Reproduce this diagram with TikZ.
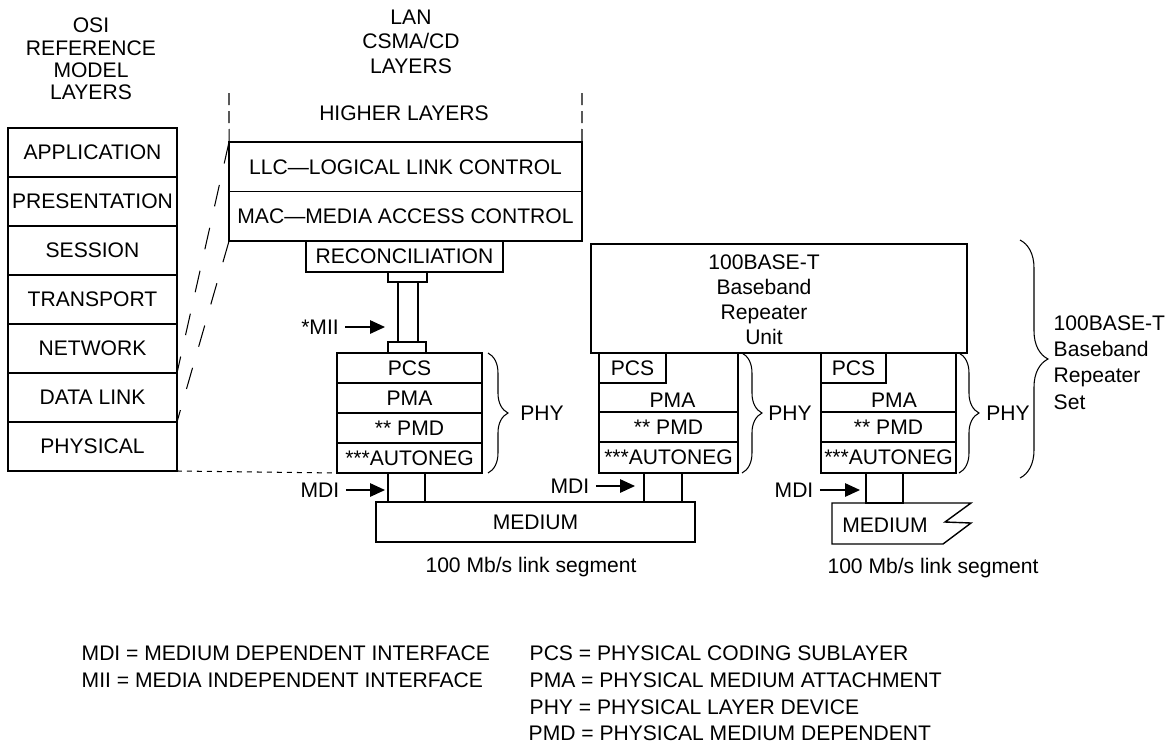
\documentclass[tikz,border=0pt]{standalone}
\usepackage{fontspec}
\setmainfont{Liberation Sans}
\usetikzlibrary{arrows.meta, decorations.pathreplacing}

\begin{document}
\begin{tikzpicture}[
    >={Triangle[length=0.3cm, width=0.27cm]},
    x=0.02cm, y=-0.02cm,
    line width=0.8pt,
    font=\fontsize{12}{14}\selectfont,
    box/.style={draw, rectangle, inner sep=0pt, outer sep=0pt, align=center},
    title/.style={align=center, inner sep=0pt},
    legend/.style={anchor=west, inner sep=0pt},
    brc/.style={decorate, decoration={brace, amplitude=#1}, line width=0.6pt},
    brc/.default=0.4cm,
    osilink/.style={line width=0.6pt, dash pattern=on 0.44cm off 0.44cm},
    hllink/.style={line width=0.6pt, dash pattern=on 0.24cm off 0.12cm},
    phylink/.style={line width=0.6pt, dash pattern=on 0.1cm off 0.1cm}
]
  \useasboundingbox (0,0) rectangle (1169,748);

  % OSI reference model
  \node[title, font=\fontsize{12}{12.7}\selectfont] (osititle) at (91,59) {OSI\\REFERENCE\\MODEL\\LAYERS};
  \node[box, minimum width=3.38cm, minimum height=0.98cm] (osi1) at (92.5,152.5) {APPLICATION};
  \node[box, minimum width=3.38cm, minimum height=0.98cm] (osi2) at (92.5,201.5) {PRESENTATION};
  \node[box, minimum width=3.38cm, minimum height=0.98cm] (osi3) at (92.5,250.5) {SESSION};
  \node[box, minimum width=3.38cm, minimum height=0.98cm] (osi4) at (92.5,299.5) {TRANSPORT};
  \node[box, minimum width=3.38cm, minimum height=0.98cm] (osi5) at (92.5,348.5) {NETWORK};
  \node[box, minimum width=3.38cm, minimum height=0.98cm] (osi6) at (92.5,397.5) {DATA LINK};
  \node[box, minimum width=3.38cm, minimum height=0.98cm] (osi7) at (92.5,446.5) {PHYSICAL};

  % LAN CSMA/CD layers
  \node[title, font=\fontsize{12}{13.9}\selectfont] (lantitle) at (411,41.5) {LAN\\CSMA/CD\\LAYERS};
  \node (higher) at (404,113) {HIGHER LAYERS};
  \node[box, minimum width=7.06cm, minimum height=0.99cm] (llc) at (405.5,166.75) {LLC—LOGICAL LINK CONTROL};
  \node[box, minimum width=7.06cm, minimum height=0.99cm] (mac) at (405.5,216.25) {MAC—MEDIA ACCESS CONTROL};
  \node[box, minimum width=3.94cm, minimum height=0.62cm] (recon) at (404.5,256.5) {RECONCILIATION};
  \coordinate (hlL) at (229,93);
  \coordinate (hlR) at (582,93);
  \draw[hllink] (hlL) -- (llc.north west);
  \draw[hllink] (hlR) -- (llc.north east);

  % MII
  \node[box, minimum width=0.78cm, minimum height=0.2cm] (miiT) at (407.5,277) {};
  \node[box, minimum width=0.4cm, minimum height=1.2cm] (miiBar) at (408,312) {};
  \node[box, minimum width=0.76cm, minimum height=0.22cm] (miiL) at (407,347.5) {};
  \node (miilab) at (320,327) {*MII};
  \coordinate (miitip) at (385,327);
  \draw[->] (miilab) -- (miitip);

  % PHY of the DTE
  \node[box, minimum width=2.9cm, minimum height=0.6cm] (pcsA) at (409.5,368) {PCS};
  \node[box, minimum width=2.9cm, minimum height=0.6cm] (pmaA) at (409.5,398) {PMA};
  \node[box, minimum width=2.9cm, minimum height=0.6cm] (pmdA) at (409.5,428) {** PMD};
  \node[box, minimum width=2.9cm, minimum height=0.6cm] (autoA) at (409.5,458) {***AUTONEG};
  \draw[brc] ([xshift=0.12cm]pcsA.north east) -- ([xshift=0.12cm]autoA.south east);
  \node (phylabA) at (542,413) {PHY};

  \node[box, minimum width=0.74cm, minimum height=0.58cm] (mdiA) at (406.5,487.5) {};
  \node (mdilabA) at (320,490) {MDI};
  \coordinate (mditipA) at (385,490);
  \draw[->] (mdilabA) -- (mditipA);
  \node[box, minimum width=6.38cm, minimum height=0.8cm] (medA) at (535.5,522) {MEDIUM};
  \node (linkA) at (531,567) {100 Mb/s link segment};

  % Repeater unit
  \node[box, minimum width=7.52cm, minimum height=2.18cm] (rptU) at (779,298.5) {};
  \node[title, font=\fontsize{12}{14.2}\selectfont] (rpttext) at (764,299.5) {100BASE-T\\Baseband\\Repeater\\Unit};

  % Repeater port B
  \node[box, minimum width=2.78cm, minimum height=1.18cm] (pmaB) at (668.5,382.5) {};
  \node[box, minimum width=1.34cm, minimum height=0.6cm] (pcsB) at (632.5,368) {PCS};
  \node (pmatextB) at (672.5,400) {PMA};
  \node[box, minimum width=2.78cm, minimum height=0.6cm] (pmdB) at (668.5,427) {** PMD};
  \node[box, minimum width=2.78cm, minimum height=0.62cm] (autoB) at (668.5,457.5) {***AUTONEG};
  \draw[brc] ([xshift=0.08cm]pmaB.north east) -- ([xshift=0.08cm]autoB.south east);
  \node (phylabB) at (790,413) {PHY};

  \node[box, minimum width=0.76cm, minimum height=0.58cm] (mdiB) at (663,487.5) {};
  \node (mdilabB) at (570,486) {MDI};
  \coordinate (mditipB) at (635,486);
  \draw[->] (mdilabB) -- (mditipB);

  % Repeater port C
  \node[box, minimum width=2.7cm, minimum height=1.18cm] (pmaC) at (888.5,382.5) {};
  \node[box, minimum width=1.3cm, minimum height=0.6cm] (pcsC) at (853.5,368) {PCS};
  \node (pmatextC) at (894,400) {PMA};
  \node[box, minimum width=2.7cm, minimum height=0.6cm] (pmdC) at (888.5,427) {** PMD};
  \node[box, minimum width=2.7cm, minimum height=0.62cm] (autoC) at (888.5,457.5) {***AUTONEG};
  \draw[brc] ([xshift=0.06cm]pmaC.north east) -- ([xshift=0.06cm]autoC.south east);
  \node (phylabC) at (1008,413) {PHY};

  \node[box, minimum width=0.74cm, minimum height=0.6cm] (mdiC) at (884.5,488) {};
  \node (mdilabC) at (794,490) {MDI};
  \coordinate (mditipC) at (860,490);
  \draw[->] (mdilabC) -- (mditipC);
  \draw (832,503) -- (971,503) -- (945,522) -- (971,523) -- (943,544) -- (832,544) -- cycle;
  \node (medtextC) at (885,525) {MEDIUM};
  \node (linkB) at (933,568) {100 Mb/s link segment};

  % Repeater set
  \coordinate (setTop) at (1020,240);
  \coordinate (setBot) at (1020,478);
  \draw[brc=0.56cm] (setTop) -- (setBot);
  \node[title, align=left, anchor=west, font=\fontsize{12}{14.9}\selectfont] (setlab) at (1053,362.5) {100BASE-T\\Baseband\\Repeater\\Set};

  % OSI to LAN mapping
  \draw[osilink] (llc.north west) -- (osi6.north east);
  \draw[osilink] (mac.south west) -- (osi6.south east);
  \draw[phylink] (osi7.south east) -- (autoA.south west);

  % Legend
  \node[legend] (legMDI) at (81,653) {MDI = MEDIUM DEPENDENT INTERFACE};
  \node[legend] (legMII) at (81,680) {MII = MEDIA INDEPENDENT INTERFACE};
  \node[legend] (legPCS) at (529,653) {PCS = PHYSICAL CODING SUBLAYER};
  \node[legend] (legPMA) at (529,680) {PMA = PHYSICAL MEDIUM ATTACHMENT};
  \node[legend] (legPHY) at (529,707) {PHY = PHYSICAL LAYER DEVICE};
  \node[legend] (legPMD) at (528,733) {PMD = PHYSICAL MEDIUM DEPENDENT};

\end{tikzpicture}
\end{document}
